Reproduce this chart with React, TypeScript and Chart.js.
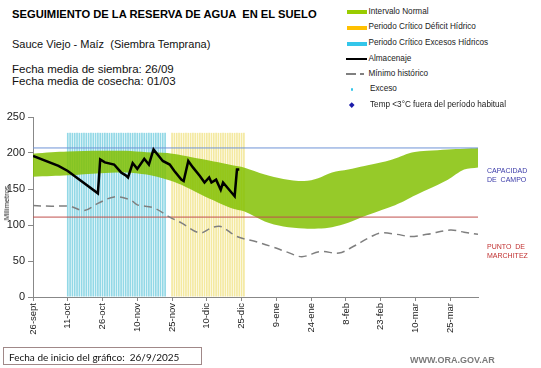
import { useEffect, useRef } from "react";
import { Chart, registerables } from "chart.js";
Chart.register(...registerables);

// Etiquetas del eje X (cada 15 días desde el 26-sept)
const tickLabels = ["26-sept", "11-oct", "26-oct", "10-nov", "25-nov", "10-dic", "25-dic", "9-ene", "24-ene", "8-feb", "23-feb", "10-mar", "25-mar"];

// Intervalo normal (banda verde): días desde el 26/9 y límites
const bandDias = [0, 8, 15, 29, 40, 49, 58, 64, 72, 80, 86, 91, 100, 108, 117, 123, 129, 136, 143, 149, 155, 160, 164, 170, 179, 186, 192];
const bandSup = [199, 201, 202, 203, 203, 201, 200, 197, 192, 187, 183, 180, 170, 164, 161, 165, 173, 177, 182, 186, 191, 197, 201, 203, 205, 206, 207];
const bandInf = [167, 168, 169, 172, 173, 170, 163, 156, 143, 131, 123, 119, 105, 98, 95, 95, 97, 103, 112, 119, 126, 133, 140, 149, 163, 177, 180];

// Almacenaje
const almDias = [0, 11, 15, 28, 29, 31, 35, 38, 40, 41, 43, 45, 48, 50, 52, 54, 56, 59, 61, 64, 65, 67, 69, 72, 74, 76, 77, 79, 81, 82, 87, 88, 89];
const almValores = [196, 182, 175, 144, 191, 187, 184, 173, 169, 166, 186, 178, 192, 184, 205, 197, 189, 184, 175, 163, 161, 189, 180, 168, 159, 166, 159, 163, 149, 159, 140, 177, 177];

// Mínimo histórico
const minDias = [0, 8, 16, 22, 28, 35, 42, 45, 52, 59, 64, 72, 77, 81, 88, 96, 103, 110, 116, 124, 132, 137, 146, 150, 157, 163, 170, 180, 186, 192];
const minValores = [127, 126, 126, 120, 130, 139, 135, 128, 124, 111, 103, 89, 96, 98, 84, 77, 70, 62, 56, 63, 61, 68, 84, 89, 87, 84, 87, 93, 90, 87];

// Períodos críticos (días)
const excesoDias = [15, 16, 17, 18, 19, 20, 21, 22, 23, 24, 25, 26, 27, 28, 29, 30, 31, 32, 33, 34, 35, 36, 37, 38, 39, 40, 41, 42, 43, 44, 45, 46, 47, 48, 49, 50, 51, 52, 53, 54, 55, 56, 57];
const deficitDias = [60, 61, 62, 63, 64, 65, 66, 67, 68, 69, 70, 71, 72, 73, 74, 75, 76, 77, 78, 79, 80, 81, 82, 83, 84, 85, 86, 87, 88, 89, 90, 91];
const alturaPeriodo = 228;

const capacidadCampo = 207;
const puntoMarchitez = 111;
const diaFinal = 192;

const FONT = 'Arial, "Liberation Sans", sans-serif';

const pts = (xs: number[], ys: number[]) => xs.map((x, i) => ({ x, y: ys[i] }));

export default function App() {
  const ref = useRef<HTMLCanvasElement>(null);
  useEffect(() => {
    const chart = new Chart(ref.current!, {
      type: "line",
      data: {
        datasets: [
          {
            type: "line",
            label: "Almacenaje",
            data: pts(almDias, almValores),
            borderColor: "#000",
            borderWidth: 2.5,
            pointRadius: 0,
            tension: 0,
            order: 0,
          },
          {
            type: "line",
            label: "Mínimo histórico",
            data: pts(minDias, minValores),
            borderColor: "#7f7f7f",
            borderWidth: 1.5,
            borderDash: [8, 5],
            pointRadius: 0,
            tension: 0.35,
            order: 1,
          },
          {
            type: "line",
            label: "cc",
            data: [{ x: 0, y: capacidadCampo }, { x: diaFinal, y: capacidadCampo }],
            borderColor: "#6f93d6",
            borderWidth: 1,
            pointRadius: 0,
            order: 2,
          },
          {
            type: "line",
            label: "pm",
            data: [{ x: 0, y: puntoMarchitez }, { x: diaFinal, y: puntoMarchitez }],
            borderColor: "#c0504d",
            borderWidth: 1,
            pointRadius: 0,
            order: 2,
          },
          {
            type: "line",
            label: "Intervalo Normal",
            data: pts(bandDias, bandSup),
            borderColor: "transparent",
            borderWidth: 0,
            backgroundColor: "rgba(130,192,0,0.84)",
            fill: "+1",
            pointRadius: 0,
            tension: 0.3,
            order: 3,
          },
          {
            type: "line",
            label: "inf",
            data: pts(bandDias, bandInf),
            borderColor: "transparent",
            borderWidth: 0,
            pointRadius: 0,
            tension: 0.3,
            fill: false,
            order: 3,
          },
          {
            type: "bar",
            label: "Periodo Crítico Excesos Hídricos",
            data: excesoDias.map((d) => ({ x: d, y: alturaPeriodo })),
            backgroundColor: "#92d8e6",
            barPercentage: 0.72,
            categoryPercentage: 1,
            grouped: false,
            order: 4,
          } as any,
          {
            type: "bar",
            label: "Periodo Crítico Déficit Hídrico",
            data: deficitDias.map((d) => ({ x: d, y: alturaPeriodo })),
            backgroundColor: "#f4e9a0",
            barPercentage: 0.72,
            categoryPercentage: 1,
            grouped: false,
            order: 4,
          } as any,
        ],
      },
      options: {
        responsive: false,
        animation: false,
        layout: { padding: { top: 17, right: 12, left: 0, bottom: 0 } },
        plugins: { legend: { display: false }, tooltip: { enabled: false } },
        scales: {
          x: {
            type: "linear",
            min: 0,
            max: diaFinal,
            offset: false,
            afterFit: (s: any) => {
              s.height = 53;
            },
            ticks: {
              stepSize: 15,
              includeBounds: false,
              autoSkip: false,
              maxRotation: 90,
              minRotation: 90,
              padding: 2,
              color: "#222",
              font: { family: FONT, size: 9.5 },
              callback: (v: any) => tickLabels[Math.round(Number(v) / 15)] ?? "",
            },
            grid: { display: true, offset: false, drawOnChartArea: false, drawTicks: true, tickLength: 4, color: "#888" },
            border: { color: "#888" },
          },
          y: {
            min: 0,
            max: 250,
            afterFit: (s: any) => {
              s.width = 33;
            },
            ticks: {
              stepSize: 50,
              padding: 3,
              color: "#222",
              font: { family: FONT, size: 11 },
            },
            grid: { display: true, drawOnChartArea: false, drawTicks: true, tickLength: 5, color: "#888" },
            border: { color: "#888" },
          },
        },
      },
    } as any);
    return () => chart.destroy();
  }, []);

  const abs = (s: any) => ({ position: "absolute", fontFamily: FONT, whiteSpace: "pre", ...s });

  const legendRows = [
    { y: 11.7, text: "Intervalo Normal", sw: <div style={abs({ left: 347, top: 10, width: 20, height: 4, background: "#99cc00" })} /> },
    { y: 27.3, text: "Periodo Crítico Déficit Hídrico", sw: <div style={abs({ left: 347, top: 25.5, width: 20, height: 4, background: "#ffc000" })} /> },
    { y: 43.3, text: "Periodo Crítico Excesos Hídricos", sw: <div style={abs({ left: 347, top: 41.5, width: 20, height: 4, background: "#33c6ea" })} /> },
    { y: 59, text: "Almacenaje", sw: <div style={abs({ left: 346, top: 58, width: 21, height: 2, background: "#000" })} /> },
    {
      y: 74,
      text: "Mínimo histórico",
      sw: (
        <>
          <div style={abs({ left: 346, top: 73.3, width: 10, height: 1.5, background: "#808080" })} />
          <div style={abs({ left: 360, top: 73.3, width: 4, height: 1.5, background: "#808080" })} />
        </>
      ),
    },
    { y: 89.3, text: "Exceso", sw: <div style={abs({ left: 350.5, top: 88.2, width: 2.5, height: 2.5, background: "#33c6ea", borderRadius: 2 })} /> },
    { y: 105, text: "Temp <3°C fuera del período habitual", sw: <div style={abs({ left: 350, top: 103.2, width: 3.5, height: 3.5, background: "#1c1caa", transform: "rotate(45deg)" })} /> },
  ];

  return (
    <div style={{ position: "absolute", left: 0, top: 0, width: 541, height: 368, background: "#fff", overflow: "hidden" }}>
      <canvas ref={ref} width={490} height={250} style={{ position: "absolute", left: 0, top: 100, width: 490, height: 250 }} />
      <div style={abs({ left: 12, top: 9.2, fontSize: 11.2, lineHeight: "11px", fontWeight: "bold", color: "#000" })}>
        SEGUIMIENTO DE LA RESERVA DE AGUA  EN EL SUELO
      </div>
      <div style={abs({ left: 12, top: 39, fontSize: 11, lineHeight: "11px", color: "#111" })}>Sauce Viejo - Maíz  (Siembra Temprana)</div>
      <div style={abs({ left: 12, top: 64.3, fontSize: 11.5, lineHeight: "11.5px", color: "#111" })}>Fecha media de siembra: 26/09</div>
      <div style={abs({ left: 12, top: 76, fontSize: 11.5, lineHeight: "11.5px", color: "#111" })}>Fecha media de cosecha: 01/03</div>

      {legendRows.map((r, i) => (
        <div key={i}>
          {r.sw}
          <div style={abs({ left: i >= 5 ? 370 : 368.5, top: r.y - 5, fontSize: 8.2, lineHeight: "10px", color: "#222" })}>{r.text}</div>
        </div>
      ))}

      <div
        style={abs({
          left: 7,
          top: 203,
          fontSize: 7.5,
          lineHeight: "8px",
          color: "#222",
          transform: "translate(-50%, -50%) rotate(-90deg)",
        })}
      >
        Milímetros
      </div>

      <div style={abs({ left: 487, top: 165.5, fontSize: 7, lineHeight: "9px", color: "#3a3aa8" })}>{"CAPACIDAD\nDE  CAMPO"}</div>
      <div style={abs({ left: 487, top: 242, fontSize: 7, lineHeight: "9px", color: "#c03030" })}>{"PUNTO  DE\nMARCHITEZ"}</div>

      <div style={abs({ left: 3, top: 347, width: 199, height: 18, border: "1px solid #a08888", boxSizing: "border-box" })} />
      <div style={abs({ left: 9, top: 351, fontSize: 10, lineHeight: "12px", color: "#111", fontFamily: 'Lato, "Open Sans", sans-serif' })}>
        Fecha de inicio del gráfico:  26/9/2025
      </div>
      <div style={abs({ left: 410, top: 355, fontSize: 9, lineHeight: "10px", fontWeight: "bold", color: "#7a7a7a" })}>WWW.ORA.GOV.AR</div>
    </div>
  );
}
